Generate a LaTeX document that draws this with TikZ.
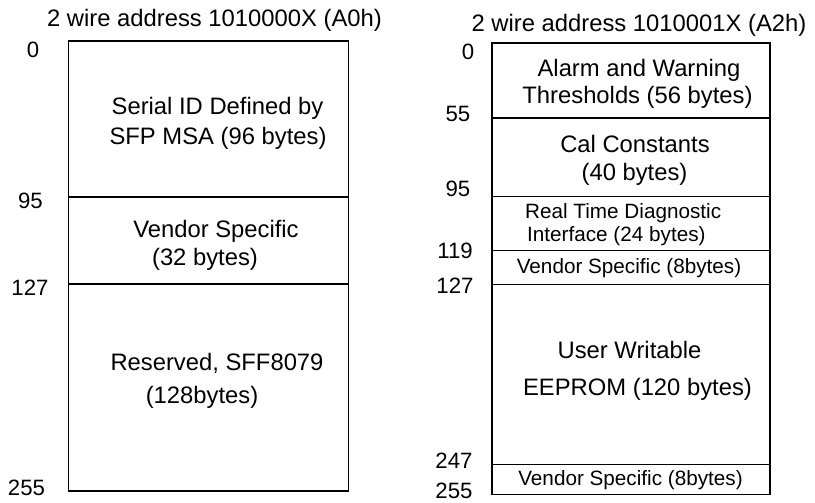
\documentclass[tikz,border=0pt]{standalone}
\usepackage{fontspec}
\setmainfont{Liberation Sans}
\usetikzlibrary{positioning}
\tikzset{
    memblk/.style = {rectangle, draw=black, line width=1.6pt, anchor=north west, minimum width=280pt, inner sep=0pt, outer sep=0pt},
    memblkr/.style = {memblk, minimum width=278pt},
    bigtxt/.style = {anchor=base, inner sep=0pt, font=\fontsize{23.8}{26}\selectfont},
    smalltxt/.style = {anchor=base, inner sep=0pt, font=\fontsize{20.7}{23}\selectfont},
    addr/.style = {anchor=base, inner sep=0pt, font=\fontsize{22.2}{24}\selectfont},
}

\begin{document}
\begin{tikzpicture}[x=1pt,y=-1pt]
\path[use as bounding box] (0,0) rectangle (815,503);

% A0h page
\node[bigtxt] (titlea) at (214.5,26.7) {2 wire address 1010000X (A0h)};
\node[memblk, minimum height=156pt] (sid) at (68.5,41) {};
\node[memblk, minimum height=87pt] (vsa) at (68.5,197) {};
\node[memblk, minimum height=207pt] (rsv) at (68.5,284) {};
%
\node[bigtxt] (sid1) at (217.5,115) {Serial ID Defined by};
\node[bigtxt] (sid2) at (218,145) {SFP MSA (96 bytes)};
\node[bigtxt] (vsa1) at (216,237) {Vendor Specific};
\node[bigtxt] (vsa2) at (205,265) {(32 bytes)};
\node[bigtxt] (rsv1) at (217,370.7) {Reserved, SFF8079};
\node[bigtxt] (rsv2) at (202,403) {(128bytes)};
%
\node[addr] (a0) at (33,58) {0};
\node[addr] (a95) at (30.5,208) {95};
\node[addr] (a127) at (30,295) {127};
\node[addr] (a255) at (26.5,495.5) {255};

% A2h page
\node[bigtxt] (titleb) at (639,31.7) {2 wire address 1010001X (A2h)};
\node[memblkr, minimum height=75pt] (thr) at (491.7,43.3) {};
\node[memblkr, minimum height=78pt] (cal) at (491.7,118.3) {};
\node[memblkr, minimum height=54pt] (rtd) at (491.7,196.3) {};
\node[memblkr, minimum height=34pt] (vsb) at (491.7,250.3) {};
\node[memblkr, minimum height=180pt] (usr) at (491.7,284.3) {};
\node[memblkr, minimum height=30pt] (vsc) at (491.7,464.3) {};
%
\node[bigtxt] (thr1) at (639,76.7) {Alarm and Warning};
\node[bigtxt] (thr2) at (637.5,103) {Thresholds (56 bytes)};
\node[bigtxt] (cal1) at (635,153) {Cal Constants};
\node[bigtxt] (cal2) at (634.5,180) {(40 bytes)};
\node[smalltxt, anchor=base west] (rtd1) at (525,218) {Real Time Diagnostic};
\node[smalltxt, anchor=base west] (rtd2) at (527,241.7) {Interface (24 bytes)};
\node[smalltxt] (vsb1) at (629,273) {Vendor Specific (8bytes)};
\node[bigtxt] (usr1) at (629.5,358) {User Writable};
\node[bigtxt] (usr2) at (637.5,395) {EEPROM (120 bytes)};
\node[smalltxt] (vsc1) at (630.5,485) {Vendor Specific (8bytes)};
%
\node[addr] (b0) at (468,60) {0};
\node[addr] (b55) at (458,121.7) {55};
\node[addr] (b95) at (458,196.7) {95};
\node[addr] (b119) at (455,258) {119};
\node[addr] (b127) at (455,293) {127};
\node[addr] (b247) at (454,468) {247};
\node[addr] (b255) at (454,498.5) {255};

\end{tikzpicture}
\end{document}
